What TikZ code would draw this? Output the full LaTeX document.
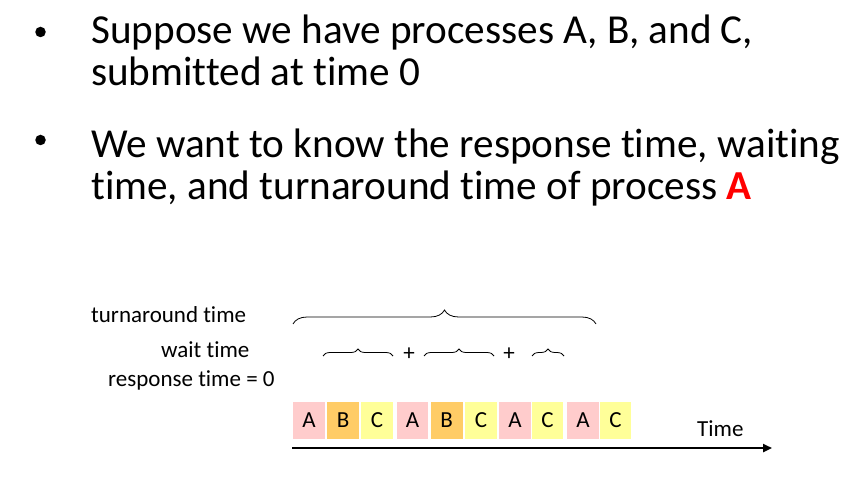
\documentclass[tikz,border=0pt]{standalone}
\usepackage{fontspec}
\setmainfont{Carlito}[RawFeature=-liga]
\usetikzlibrary{decorations.pathreplacing,arrows.meta}
\definecolor{pa}{HTML}{FFCCCC}
\definecolor{pb}{HTML}{FFCC66}
\definecolor{pc}{HTML}{FFFF99}
\definecolor{redA}{HTML}{FF0000}
\begin{document}
\begin{tikzpicture}[x=1pt,y=-1pt,
  bigtext/.style={anchor=base west,inner sep=0pt,font=\fontsize{41.2}{48}\selectfont},
  bul/.style={circle,fill=black,inner sep=0pt,minimum size=10.5pt},
  smalltext/.style={anchor=base west,inner sep=0pt,font=\fontsize{23}{28}\selectfont},
  box/.style={minimum width=31.7pt,minimum height=37pt,inner sep=0pt,font=\fontsize{23}{28}\selectfont},
  bigbrace/.style={decorate,decoration={brace,amplitude=14pt},line width=0.8pt},
  smallbrace/.style={decorate,decoration={brace,amplitude=7pt},line width=0.8pt},
  plus/.style={inner sep=0pt,font=\fontsize{23}{28}\selectfont}]
\useasboundingbox (0,0) rectangle (861,486);
% bullets
\node[bul] (bu1) at (40.5,32) {};
\node[bul] (bu2) at (40.5,140) {};
\node[bigtext] (l1) at (91,43.5) {Suppose we have processes A, B, and C,};
\node[bigtext] (l2) at (91,85.5) {submitted at time 0};
\node[bigtext] (l3) at (91,158) {We want to know the response time, waiting};
\node[bigtext] (l4) at (91,200) {time, and turnaround time of process \textcolor{redA}{\textbf{A}}};
% labels
\node[smalltext] (tat) at (91,322) {turnaround time};
\node[smalltext] (wt) at (161,357) {wait time};
\node[smalltext] (rt) at (108,386) {response time = 0};
% boxes
\node[box,fill=pa] (b1) at (308.9,420) {A};
\node[box,fill=pb] (b2) at (343,420) {B};
\node[box,fill=pc] (b3) at (376.9,420) {C};
\node[box,fill=pa] (b4) at (412.5,420) {A};
\node[box,fill=pb] (b5) at (446.7,420) {B};
\node[box,fill=pc] (b6) at (480.9,420) {C};
\node[box,fill=pa] (b7) at (514.9,420) {A};
\node[box,fill=pc] (b8) at (547.5,420) {C};
\node[box,fill=pa] (b9) at (582.9,420) {A};
\node[box,fill=pc] (b10) at (615.5,420) {C};
% time axis
\coordinate (ax0) at (292,448);
\coordinate (ax1) at (772,448);
\draw[line width=2.6pt,-{Triangle[length=9pt,width=8pt]}] (ax0) -- (ax1);
\node[smalltext] (time) at (697,436) {Time};
% braces
\coordinate (tb0) at (293,324);
\coordinate (tb1) at (596,324);
\draw[bigbrace] (tb0) -- (tb1);
\coordinate (w1a) at (323,356);
\coordinate (w1b) at (393,356);
\coordinate (w2a) at (424,356);
\coordinate (w2b) at (494,356);
\coordinate (w3a) at (532,356);
\coordinate (w3b) at (564,356);
\draw[smallbrace] (w1a) -- (w1b);
\draw[smallbrace] (w2a) -- (w2b);
\draw[smallbrace] (w3a) -- (w3b);
\node[plus] (p1) at (409,354) {+};
\node[plus] (p2) at (509,354) {+};
\end{tikzpicture}
\end{document}
